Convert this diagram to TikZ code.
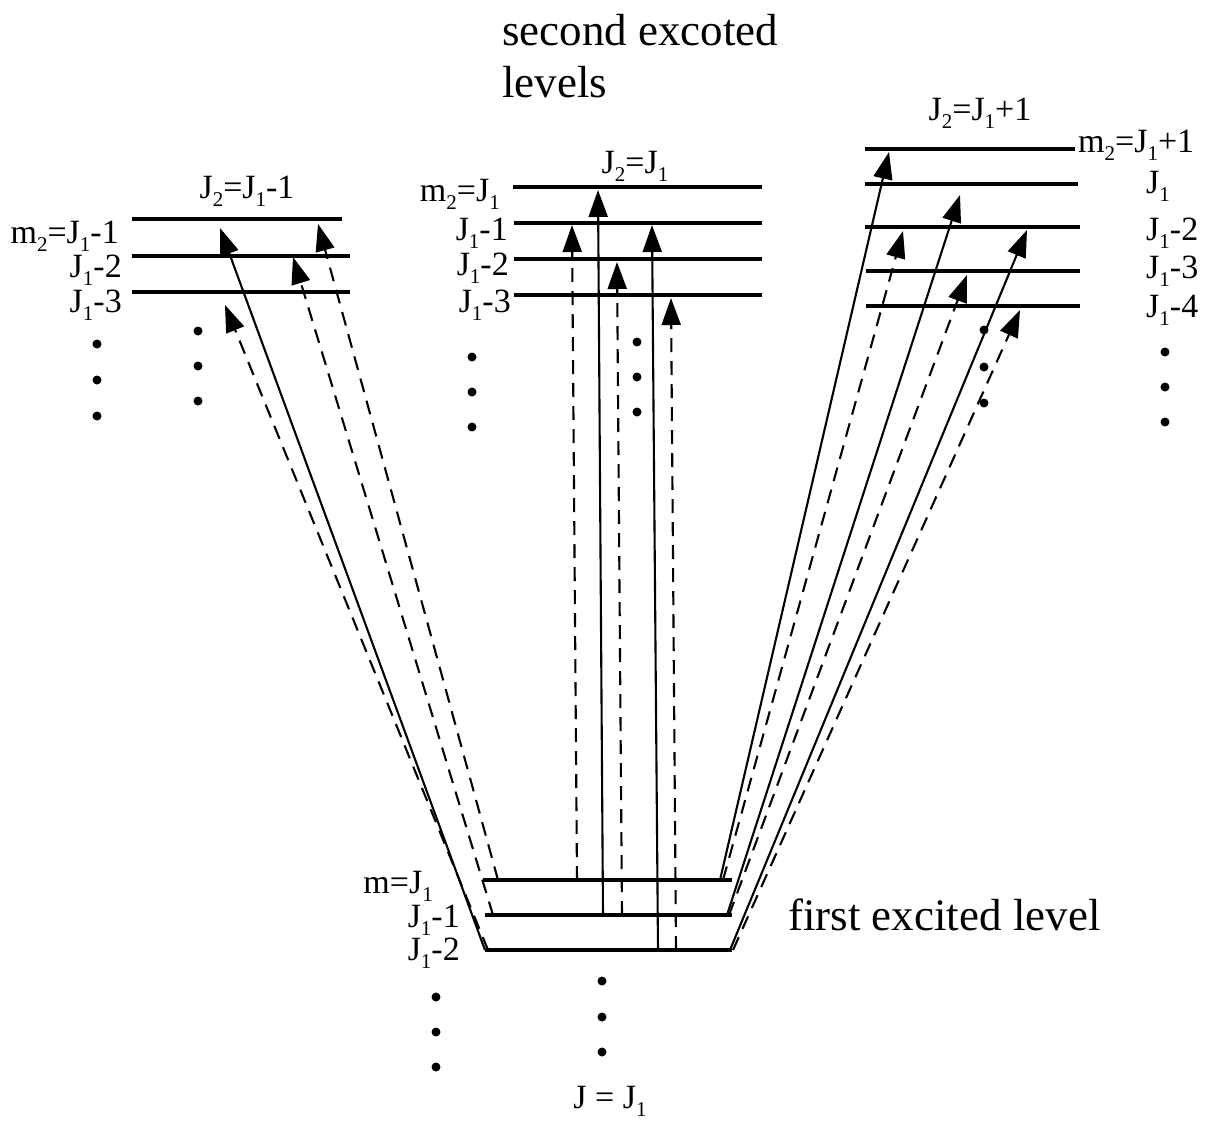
\documentclass[tikz,border=0pt]{standalone}
\usepackage{fontspec}
\setmainfont{Liberation Serif}
\usetikzlibrary{arrows.meta}
\newcommand{\lsub}[1]{\raisebox{-0.25em}{\fontsize{21}{21}\selectfont #1}}
\begin{document}
\begin{tikzpicture}[x=1pt,y=-1pt,
  level/.style={line width=4.8pt},
  lbl/.style={font=\fontsize{34}{38}\selectfont, inner sep=0pt},
  big/.style={font=\fontsize{45}{50}\selectfont, inner sep=0pt, anchor=base west},
  tr/.style={line width=2.1pt, -{Triangle[length=27pt,width=19pt]}},
  trd/.style={tr, dash pattern=on 14pt off 9pt},
  dotc/.style={circle, fill, inner sep=0pt, minimum size=9pt}]
\useasboundingbox (0,0) rectangle (1215,1122);

% ---------------- texts ----------------
\node[big] (t1) at (502,45) {second excoted};
\node[big] (t2) at (502,97) {levels};
\node[big] (t3) at (788,930) {first excited level};

% ---------------- left group J2=J1-1 ----------------
\coordinate (a1l) at (132,219); \coordinate (a1r) at (342,219);
\coordinate (a2l) at (132,256); \coordinate (a2r) at (350,256);
\coordinate (a3l) at (132,292); \coordinate (a3r) at (350,292);
\draw[level] (a1l) -- (a1r);
\draw[level] (a2l) -- (a2r);
\draw[level] (a3l) -- (a3r);
\node[lbl, anchor=base] (la0) at (247,198) {J\lsub{2}=J\lsub{1}-1};
\node[lbl, anchor=base east] (la1) at (119,243) {m\lsub{2}=J\lsub{1}-1};
\node[lbl, anchor=base east] (la2) at (122,277) {J\lsub{1}-2};
\node[lbl, anchor=base east] (la3) at (122,312) {J\lsub{1}-3};
\foreach \y [count=\i] in {344,380,416} \node[dotc] (lda\i) at (97,\y) {};
\foreach \y [count=\i] in {331,366,401} \node[dotc] (ldb\i) at (198,\y) {};

% ---------------- middle group J2=J1 ----------------
\coordinate (b1l) at (513,187); \coordinate (b1r) at (762,187);
\coordinate (b2l) at (514,223); \coordinate (b2r) at (762,223);
\coordinate (b3l) at (514,259); \coordinate (b3r) at (762,259);
\coordinate (b4l) at (514,295); \coordinate (b4r) at (762,295);
\foreach \i in {1,2,3,4} \draw[level] (b\i l) -- (b\i r);
\node[lbl, anchor=base] (lb0) at (635,173) {J\lsub{2}=J\lsub{1}};
\node[lbl, anchor=base east] (lb1) at (500,201) {m\lsub{2}=J\lsub{1}};
\node[lbl, anchor=base east] (lb2) at (508,240) {J\lsub{1}-1};
\node[lbl, anchor=base east] (lb3) at (509,275) {J\lsub{1}-2};
\node[lbl, anchor=base east] (lb4) at (511,312) {J\lsub{1}-3};
\foreach \y [count=\i] in {357,392,427} \node[dotc] (mda\i) at (472,\y) {};
\foreach \y [count=\i] in {342,377,412} \node[dotc] (mdb\i) at (637,\y) {};

% ---------------- right group J2=J1+1 ----------------
\coordinate (c1l) at (865,149); \coordinate (c1r) at (1075,149);
\coordinate (c2l) at (865,184); \coordinate (c2r) at (1078,184);
\coordinate (c3l) at (865,227); \coordinate (c3r) at (1080,227);
\coordinate (c4l) at (866,271); \coordinate (c4r) at (1080,271);
\coordinate (c5l) at (866,306); \coordinate (c5r) at (1080,306);
\foreach \i in {1,2,3,4,5} \draw[level] (c\i l) -- (c\i r);
\node[lbl, anchor=base] (lc0) at (980,120) {J\lsub{2}=J\lsub{1}+1};
\node[lbl, anchor=base west] (lc1) at (1078,152) {m\lsub{2}=J\lsub{1}+1};
\node[lbl, anchor=base west] (lc2) at (1146,193) {J\lsub{1}};
\node[lbl, anchor=base west] (lc3) at (1146,240) {J\lsub{1}-2};
\node[lbl, anchor=base west] (lc4) at (1146,278) {J\lsub{1}-3};
\node[lbl, anchor=base west] (lc5) at (1146,317) {J\lsub{1}-4};
\foreach \y [count=\i] in {352,387,422} \node[dotc] (rda\i) at (1165,\y) {};
\foreach \y [count=\i] in {330,367,403} \node[dotc] (rdb\i) at (984,\y) {};

% ---------------- first excited level ----------------
\coordinate (f1l) at (483,880); \coordinate (f1r) at (732,880);
\coordinate (f2l) at (485,915); \coordinate (f2r) at (732,915);
\coordinate (f3l) at (485,950); \coordinate (f3r) at (732,950);
\foreach \i in {1,2,3} \draw[level] (f\i l) -- (f\i r);
\node[lbl, anchor=base east] (lf1) at (433,893) {m=J\lsub{1}};
\node[lbl, anchor=base east] (lf2) at (460,927) {J\lsub{1}-1};
\node[lbl, anchor=base east] (lf3) at (460,960) {J\lsub{1}-2};
\node[lbl, anchor=base] (lf0) at (610,1108) {J = J\lsub{1}};
\foreach \y [count=\i] in {997,1032,1067} \node[dotc] (fda\i) at (436,\y) {};
\foreach \y [count=\i] in {981,1017,1052} \node[dotc] (fdb\i) at (602,\y) {};

% ---------------- transitions ----------------
% left
\coordinate (sS1) at (485,950); \coordinate (eS1) at (220,228);
\coordinate (sD1) at (498,880); \coordinate (eD1) at (318,224);
\coordinate (sD2) at (493,915); \coordinate (eD2) at (293,257);
\coordinate (sD3) at (488,950); \coordinate (eD3) at (225,305);
\draw[tr]  (sS1) -- (eS1);
\draw[trd] (sD1) -- (eD1);
\draw[trd] (sD2) -- (eD2);
\draw[trd] (sD3) -- (eD3);
% middle
\coordinate (sMA) at (603,915); \coordinate (eMA) at (598,190);
\coordinate (sMB) at (658,950); \coordinate (eMB) at (652,225);
\coordinate (sMC) at (577,880); \coordinate (eMC) at (572,225);
\coordinate (sMD) at (622,915); \coordinate (eMD) at (617,262);
\coordinate (sME) at (676,950); \coordinate (eME) at (671,298);
\draw[tr]  (sMA) -- (eMA);
\draw[tr]  (sMB) -- (eMB);
\draw[trd] (sMC) -- (eMC);
\draw[trd] (sMD) -- (eMD);
\draw[trd] (sME) -- (eME);
% right
\coordinate (sR1) at (720,880); \coordinate (eR1) at (889,152);
\coordinate (sR2) at (727,915); \coordinate (eR2) at (960,195);
\coordinate (sR3) at (730,950); \coordinate (eR3) at (1027,230);
\coordinate (sR4) at (723,880); \coordinate (eR4) at (903,231);
\coordinate (sR5) at (729,915); \coordinate (eR5) at (967,275);
\coordinate (sR6) at (733,950); \coordinate (eR6) at (1020,310);
\draw[tr]  (sR1) -- (eR1);
\draw[tr]  (sR2) -- (eR2);
\draw[tr]  (sR3) -- (eR3);
\draw[trd] (sR4) -- (eR4);
\draw[trd] (sR5) -- (eR5);
\draw[trd] (sR6) -- (eR6);
\end{tikzpicture}
\end{document}
